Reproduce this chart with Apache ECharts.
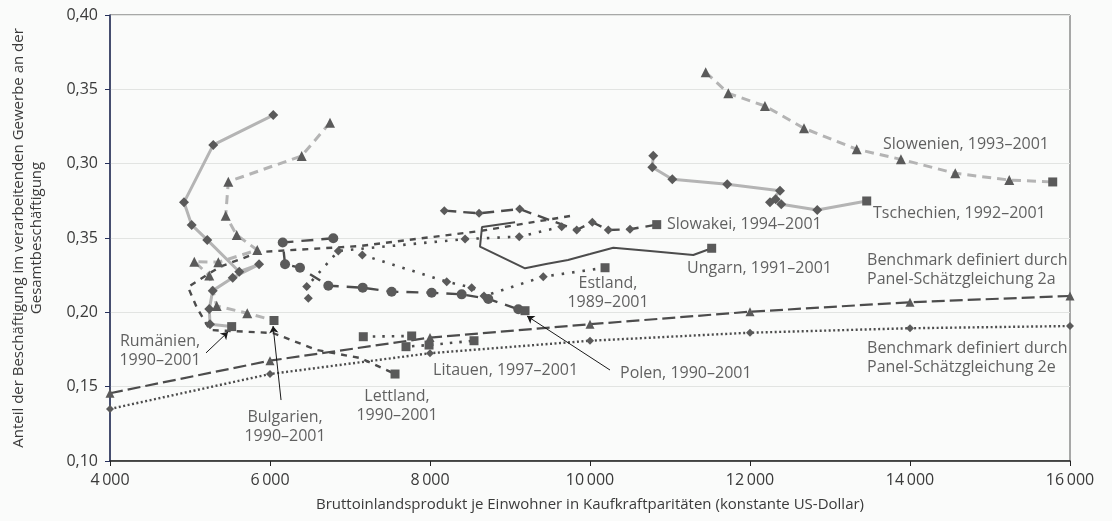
<!DOCTYPE html>
<html>
<head>
<meta charset="utf-8">
<script src="https://cdn.jsdelivr.net/npm/echarts@6/dist/echarts.min.js"></script>
<style>
html,body{margin:0;padding:0;background:#fafbfa;}
#chart{width:1112px;height:521px;}
</style>
</head>
<body>
<div id="chart"></div>
<script>
// ---------- tick labels ----------
const xTickLabels = ['4\u2009000','6\u2009000','8\u2009000','10\u2009000','12\u2009000','14\u2009000','16\u2009000'];
const yTickLabels = ['0,10','0,15','0,20','0,35','0,30','0,35','0,40'];

// ---------- country paths (GDP per capita, manufacturing share) ----------
const rumaenienX = [6041,5291,4925,5021,5216,5616,5863,5534,5284,5241,5250,5521];
const rumaenienY = [0.3327,0.3126,0.2740,0.2588,0.2487,0.2273,0.2323,0.2233,0.2146,0.2023,0.1920,0.1904];

const bulgarienX = [6750,6396,5479,5446,5584,5841,5354,5054,5241,5334,5716,6050];
const bulgarienY = [0.3276,0.3052,0.2879,0.2650,0.2520,0.2419,0.2337,0.2341,0.2248,0.2043,0.1994,0.1945];

const lettlandX = [9750,8625,7125,5875,5375,4975,5088,5250,6038,6584,7125,7563];
const lettlandY = [0.2648,0.2547,0.2446,0.2406,0.2307,0.2170,0.2029,0.1881,0.1861,0.1747,0.1693,0.1585];

const litauenX = [7166,7771,7700,7988,8550];
const litauenY = [0.1836,0.1841,0.1769,0.1780,0.1809];

const polenX = [6791,6159,6188,6375,6729,7159,7521,8021,8396,8729,9104,9188];
const polenY = [0.2498,0.2470,0.2323,0.2300,0.2179,0.2166,0.2139,0.2132,0.2121,0.2090,0.2021,0.2011];

const estlandX = [9646,9116,8438,6854,6459,6479,null,7154,8209,8521,8675,9416,10188];
const estlandY = [0.2576,0.2509,0.2493,0.2413,0.2173,0.2095,null,0.2386,0.2206,0.2166,0.2110,0.2240,0.2300];

const ungarnX = [9063,8650,8625,9188,9450,9725,10000,10291,10750,11291,11521];
const ungarnY = [0.2606,0.2574,0.2442,0.2296,0.2325,0.2352,0.2392,0.2435,0.2413,0.2386,0.2431];

const slowakeiX = [8179,8613,9121,9834,10029,10229,10500,10834];
const slowakeiY = [0.2684,0.2666,0.2695,0.2554,0.2606,0.2554,0.2559,0.2590];

const tschechienX = [10791,10779,11029,11716,12375,12250,12321,12391,12841,13459];
const tschechienY = [0.3054,0.2976,0.2895,0.2861,0.2818,0.2740,0.2760,0.2727,0.2688,0.2749];

const slowenienX = [11446,11729,12187,12675,13334,13887,14566,15241,15784];
const slowenienY = [0.3615,0.3473,0.3388,0.3238,0.3097,0.3029,0.2935,0.2890,0.2877];

// ---------- benchmarks ----------
const benchX = [4000,6000,8000,10000,12000,14000,16000];
const bench2aY = [0.1456,0.1675,0.1830,0.1920,0.2004,0.2068,0.2110];
const bench2eY = [0.1350,0.1585,0.1725,0.1809,0.1863,0.1893,0.1908];

// ---------- annotations ----------
const labelTexts = [
  'Slowenien, 1993\u20132001',
  'Tschechien, 1992\u20132001',
  'Slowakei, 1994\u20132001',
  'Ungarn, 1991\u20132001',
  'Estland,\n1989\u20132001',
  'Polen, 1990\u20132001',
  'Litauen, 1997\u20132001',
  'Lettland,\n1990\u20132001',
  'Bulgarien,\n1990\u20132001',
  'Rumänien,\n1990\u20132001',
  'Benchmark definiert durch\nPanel-Schätzgleichung 2a',
  'Benchmark definiert durch\nPanel-Schätzgleichung 2e'
];
const labelAnchorX = [13663,13538,10963,11213,10225,10375,8038,7588,6188,4625,13463,13463];
const labelAnchorY = [0.3126,0.2668,0.2588,0.2292,0.2130,0.1592,0.1612,0.1370,0.1232,0.1737,0.2285,0.1690];
const labelAlign = ['left','left','left','left','center','left','left','center','center','center','left','left'];

const arrowFromX = [5200,6138,10250];
const arrowFromY = [0.1727,0.1410,0.1612];
const arrowToX = [5475,6038,9213];
const arrowToY = [0.1868,0.1908,0.1975];

// ---------- styling helpers ----------
const FONT = '"Open Sans", "Noto Sans", sans-serif';
const TXT = '#3a3a3a';
const MARK = '#5a5a5a';
const DARK = '#4c4c4c';
const LIGHT = '#b4b4b4';

function pts(xs, ys) {
  return xs.map((x, i) => (x === null || ys[i] === null) ? '-' : [x, ys[i]]);
}
function countrySeries(name, xs, ys, marker, lineColor, lineWidth, dash, size) {
  const last = xs.length - 1;
  return {
    name: name,
    type: 'line',
    data: pts(xs, ys),
    connectNulls: false,
    symbol: function (v, p) { return p.dataIndex === last ? 'rect' : marker; },
    symbolSize: function (v, p) { return p.dataIndex === last ? 9 : size; },
    showAllSymbol: true,
    itemStyle: { color: MARK },
    lineStyle: { color: lineColor, width: lineWidth, type: dash },
    emphasis: { disabled: true },
    animation: false,
    z: 3
  };
}

const chart = echarts.init(document.getElementById('chart'), null, { renderer: 'canvas' });

const series = [
  { name: 'Benchmark 2a', type: 'line', data: pts(benchX, bench2aY), symbol: 'triangle', symbolSize: 9,
    itemStyle: { color: MARK }, lineStyle: { color: DARK, width: 2.2, type: [13, 5] }, animation: false, z: 2 },
  { name: 'Benchmark 2e', type: 'line', data: pts(benchX, bench2eY), symbol: 'diamond', symbolSize: 8,
    itemStyle: { color: MARK }, lineStyle: { color: DARK, width: 2.4, type: [2, 2.5] }, animation: false, z: 2 },
  countrySeries('Rumänien', rumaenienX, rumaenienY, 'diamond', LIGHT, 3, 'solid', 10),
  countrySeries('Bulgarien', bulgarienX, bulgarienY, 'triangle', LIGHT, 3, [9, 6], 10),
  countrySeries('Tschechien', tschechienX, tschechienY, 'diamond', LIGHT, 3, 'solid', 10),
  countrySeries('Slowenien', slowenienX, slowenienY, 'triangle', LIGHT, 3, [9, 6], 10),
  countrySeries('Lettland', lettlandX, lettlandY, 'none', DARK, 2.4, [6, 6], 8),
  countrySeries('Litauen', litauenX, litauenY, 'rect', DARK, 2.6, [2.5, 7], 9),
  countrySeries('Estland', estlandX, estlandY, 'diamond', DARK, 2.6, [2.5, 8], 9),
  countrySeries('Ungarn', ungarnX, ungarnY, 'none', DARK, 2, 'solid', 8),
  countrySeries('Slowakei', slowakeiX, slowakeiY, 'diamond', DARK, 2.4, [12, 7], 9),
  countrySeries('Polen', polenX, polenY, 'circle', DARK, 2.4, [12, 8], 10),
  {
    name: 'arrows', type: 'lines', coordinateSystem: 'cartesian2d',
    data: arrowFromX.map((x, i) => ({ coords: [[x, arrowFromY[i]], [arrowToX[i], arrowToY[i]]] })),
    symbol: ['none', 'arrow'], symbolSize: [0, 7],
    lineStyle: { color: '#1a1a1a', width: 1, opacity: 1, curveness: 0 },
    silent: true, animation: false, z: 5
  },
  {
    name: 'labels', type: 'scatter', silent: true, animation: false, z: 6,
    symbol: 'circle', symbolSize: 1, itemStyle: { color: 'rgba(0,0,0,0)' },
    data: labelTexts.map((t, i) => ({
      value: [labelAnchorX[i], labelAnchorY[i]],
      label: {
        show: true, position: 'inside', formatter: t,
        align: labelAlign[i], verticalAlign: 'middle',
        fontFamily: FONT, fontSize: 16, color: TXT, lineHeight: 19
      }
    }))
  }
];

chart.setOption({
  backgroundColor: '#fafbfa',
  animation: false,
  grid: { left: 110, right: 42, top: 15, bottom: 60, show: true, borderColor: '#555', borderWidth: 1, backgroundColor: 'transparent' },
  xAxis: {
    type: 'value', min: 4000, max: 16000, interval: 2000,
    name: 'Bruttoinlandsprodukt je Einwohner in Kaufkraftparitäten (konstante US-Dollar)',
    nameLocation: 'middle', nameGap: 36,
    nameTextStyle: { fontFamily: FONT, fontSize: 15, color: TXT },
    axisLine: { show: true, lineStyle: { color: '#222', width: 1.5 } },
    axisTick: { show: true, length: 5, lineStyle: { color: '#222' } },
    axisLabel: {
      margin: 11, fontFamily: FONT, fontSize: 16, color: TXT,
      formatter: function (v) { return xTickLabels[Math.round((v - 4000) / 2000)]; }
    },
    splitLine: { show: false }
  },
  yAxis: {
    type: 'value', min: 0.10, max: 0.40, interval: 0.05,
    name: 'Anteil der Beschäftigung im verarbeitenden Gewerbe an der\nGesamtbeschäftigung',
    nameLocation: 'middle', nameGap: 64, nameRotate: 90,
    nameTextStyle: { fontFamily: FONT, fontSize: 15, color: TXT, lineHeight: 18 },
    axisLine: { show: true, lineStyle: { color: '#26315c', width: 1.5 } },
    axisTick: { show: true, length: 5, lineStyle: { color: '#26315c' } },
    axisLabel: {
      margin: 12, fontFamily: FONT, fontSize: 16, color: TXT,
      formatter: function (v) { return yTickLabels[Math.round((v - 0.10) / 0.05)]; }
    },
    splitLine: { show: true, lineStyle: { color: '#e2e4e2', width: 1 } }
  },
  series: series
});
</script>
</body>
</html>
